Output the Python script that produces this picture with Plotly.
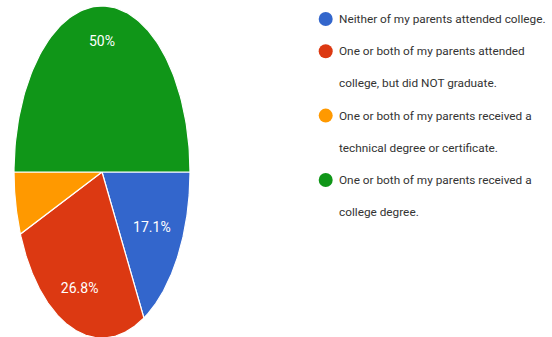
import numpy as np
import plotly.graph_objects as go

# Survey responses: parents' education level (percent of respondents)
categories = [
    "Neither of my parents attended college.",
    "One or both of my parents attended<br>college, but did NOT graduate.",
    "One or both of my parents received a<br>technical degree or certificate.",
    "One or both of my parents received a<br>college degree.",
]
values = [17.1, 26.8, 6.1, 50.0]
slice_labels = ["17.1%", "26.8%", "", "50%"]
colors = ["#3366cc", "#dc3912", "#ff9900", "#109618"]

# Pie geometry in pixel-like axis units (ellipse, drawn clockwise from 3 o'clock)
W, H = 552, 337
cx, cy, rx, ry = 102, 172, 88, 166
label_radius = [0.66, 0.75, 0.75, 0.78]
FONT = "Roboto, Arial, sans-serif"

fig = go.Figure()

total = sum(values)
start = 0.0
label_x, label_y = [], []
for i, v in enumerate(values):
    a0 = start / total * 2 * np.pi
    a1 = (start + v) / total * 2 * np.pi
    t = np.linspace(a0, a1, 120)
    xs = np.concatenate([[cx], cx + rx * np.cos(t), [cx]])
    ys = np.concatenate([[cy], cy + ry * np.sin(t), [cy]])
    fig.add_trace(go.Scatter(
        x=xs, y=ys, mode="lines", fill="toself",
        fillcolor=colors[i], line=dict(color="white", width=1.2),
        hoverinfo="skip", showlegend=False,
    ))
    mid = (a0 + a1) / 2
    label_x.append(cx + rx * label_radius[i] * np.cos(mid))
    label_y.append(cy + ry * label_radius[i] * np.sin(mid))
    start += v

fig.add_trace(go.Scatter(
    x=label_x, y=label_y, mode="text", text=slice_labels,
    textfont=dict(family=FONT, size=14, color="white"),
    hoverinfo="skip", showlegend=False,
))

# Legend: colored dots with wrapped text lines
dot_x = 325.7
text_x = 336.5
line_y0, line_pitch = 19, 32.2
dot_y = []
line_idx = 0
for i, name in enumerate(categories):
    lines = name.split("<br>")
    dot_y.append(line_y0 + line_idx * line_pitch)
    for ln in lines:
        fig.add_annotation(
            x=text_x, y=line_y0 + line_idx * line_pitch, text=ln,
            xanchor="left", yanchor="middle", showarrow=False,
            font=dict(family=FONT, size=11.8, color="#333333"),
        )
        line_idx += 1

fig.add_trace(go.Scatter(
    x=[dot_x] * len(categories), y=dot_y, mode="markers",
    marker=dict(color=colors, size=14, symbol="circle"),
    hoverinfo="skip", showlegend=False,
))

fig.update_xaxes(range=[0, W], visible=False, fixedrange=True)
fig.update_yaxes(range=[H, 0], visible=False, fixedrange=True)
fig.update_layout(
    width=W, height=H,
    margin=dict(l=0, r=0, t=0, b=0),
    paper_bgcolor="white", plot_bgcolor="white",
    showlegend=False,
)

fig.write_html("out.html")
